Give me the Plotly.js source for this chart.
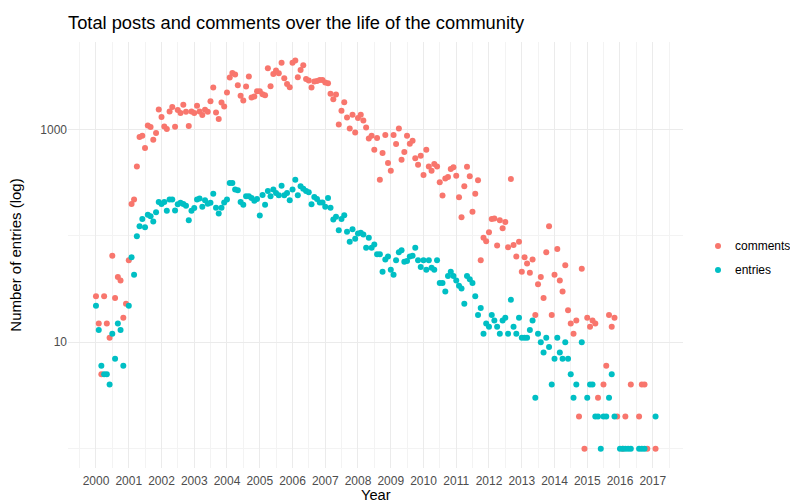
<!DOCTYPE html>
<html>
<head>
<meta charset="utf-8">
<script src="https://cdn.plot.ly/plotly-3.0.1.min.js"></script>
<style>
html,body{margin:0;padding:0;background:#fff;}
#chart{width:790px;height:504px;}
</style>
</head>
<body>
<div id="chart"></div>
<script>
// Monthly series, January 2000 .. February 2017 (206 months)
const startYear = 2000;
const monthCount = 206;

const comments = [
 27,15,5,27,15,11,65,26,41,38,17,23,
 59,199,219,449,847,872,668,1089,1051,800,923,1538,
 1304,1064,1006,1472,1619,1057,1518,1422,1703,1463,1074,1472,
 1422,1665,1472,1362,1528,1463,1841,2471,1440,1249,1786,1640,
 2218,3064,3390,3270,2603,2066,1866,2524,3131,1991,2033,2284,
 2284,2143,2096,3756,2546,3320,3566,3371,4238,3026,2675,2489,
 4238,4426,3093,3622,4010,2980,2873,2471,2811,2852,2916,2916,
 2751,2718,2158,1924,2125,1112,1493,1803,1294,1020,1371,936,
 1282,1371,1211,1041,822,872,644,829,337,600,885,483,
 409,885,728,1020,519,613,872,733,782,534,466,566,
 373,644,449,409,473,449,318,239,345,357,425,440,
 367,230,149,292,446,362,168,249,332,59,96,89,
 108,144,145,81,140,118,135,78,342,82,64,88,
 46,63,55,45,60,18,35,41,26,70,123,18,
 43,75,38,30,53,20,15,12,16,2,49,1,
 17,14,16,15,3,null,4,6,18,14,17,2,
 null,1,2,null,4,null,null,2,4,4,1,null,
 null,1
];

const entries = [
 22,13,6,5,5,4,12,7,15,13,6,null,
 22,63,43,99,123,144,120,158,153,136,166,208,
 199,208,172,219,219,173,198,204,199,192,140,172,
 182,219,224,187,216,200,204,249,183,162,183,206,
 219,314,314,272,268,208,196,235,235,227,214,222,
 155,242,196,264,235,272,253,240,296,240,253,216,
 272,337,240,292,276,264,256,198,232,222,206,206,
 187,227,183,142,151,113,144,156,109,88,115,94,
 105,107,103,77,96,77,83,67,67,46,60,64,
 48,43,59,70,73,57,58,64,65,77,59,51,
 59,48,59,50,48,59,36,36,30,42,46,42,
 38,34,32,23,42,39,36,27,18,21,12,15,
 14,18,16,14,12,16,17,12,25,14,12,17,
 11,11,11,13,16,3,12,10,8,11,9,4,
 7,11,8,7,10,7,5,3,4,null,10,null,
 3,4,4,2,2,1,2,2,3,5,2,null,
 1,1,1,1,1,null,null,1,1,1,null,null,
 null,2
];

const seriesNames = ["comments", "entries"];
const seriesColors = ["#F8766D", "#00BFC4"];
const yTickVals = [10, 1000];
const yTickText = ["10", "1000"];

function pad(n){ return (n < 10 ? "0" : "") + n; }
const months = [];
for (let i = 0; i < monthCount; i++) {
  const y = startYear + Math.floor(i / 12);
  const m = (i % 12) + 1;
  months.push(y + "-" + pad(m) + "-01");
}

const FONT = "Liberation Sans, Arial, Helvetica, sans-serif";

// Plot panel in pixels (for the hand-placed legend and x title)
const W = 790, H = 504;
const M = {l: 68, r: 107, t: 42, b: 36};
const PW = W - M.l - M.r, PH = H - M.t - M.b;
const px2x = px => (px - M.l) / PW;
const px2y = py => (H - M.b - py) / PH;

const traces = [comments, entries].map((vals, k) => ({
  type: "scatter",
  mode: "markers",
  name: seriesNames[k],
  x: months,
  y: vals,
  marker: {color: seriesColors[k], size: 6, line: {width: 0}},
  showlegend: false,
  hoverinfo: "x+y+name"
}));

// Legend drawn by hand so it does not change the plot margins
const legendY = [246, 270];
const shapes = seriesNames.map((n, k) => ({
  type: "circle", xref: "paper", yref: "paper",
  xsizemode: "pixel", ysizemode: "pixel",
  xanchor: px2x(718), yanchor: px2y(legendY[k]),
  x0: -3, x1: 3, y0: -3, y1: 3,
  fillcolor: seriesColors[k], line: {width: 0}
}));
const annotations = seriesNames.map((n, k) => ({
  text: n, xref: "paper", yref: "paper",
  x: px2x(733), y: px2y(legendY[k]),
  xanchor: "left", yanchor: "middle", showarrow: false,
  font: {family: FONT, size: 12, color: "#000000"}
}));
annotations.push({
  text: "Year", xref: "paper", yref: "paper",
  x: 0.5, y: px2y(504), xanchor: "center", yanchor: "bottom",
  borderpad: 0,
  showarrow: false, font: {family: FONT, size: 14.7, color: "#000000"}
});

const layout = {
  width: W,
  height: H,
  paper_bgcolor: "#ffffff",
  plot_bgcolor: "#ffffff",
  margin: M,
  font: {family: FONT, color: "#000000"},
  title: {
    text: "Total posts and comments over the life of the community",
    x: 68 / 790, xanchor: "left", xref: "container",
    y: 1 - 22.5 / 504, yanchor: "middle", yref: "container",
    font: {family: FONT, size: 18.3, color: "#000000"}
  },
  xaxis: {
    type: "date",
    range: ["1999-02-23", "2017-12-04"],
    tickmode: "linear",
    tick0: "2000-01-01",
    dtick: "M12",
    tickformat: "%Y",
    ticks: "",
    ticklabelstandoff: 4,
    showline: false,
    zeroline: false,
    showgrid: true,
    gridcolor: "#EBEBEB",
    gridwidth: 1.1,
    minor: {tick0: "1999-07-01", dtick: "M12", showgrid: true, gridcolor: "#F3F3F3", gridwidth: 0.8, ticks: ""},
    tickfont: {family: FONT, size: 12, color: "#4D4D4D"},
    automargin: false
  },
  yaxis: {
    type: "log",
    range: [-0.182, 3.821],
    tickmode: "array",
    tickvals: yTickVals,
    ticktext: yTickText,
    ticks: "",
    showline: false,
    zeroline: false,
    showgrid: true,
    gridcolor: "#EBEBEB",
    gridwidth: 1.1,
    minor: {tickmode: "array", tickvals: [1, 100], showgrid: true, gridcolor: "#F3F3F3", gridwidth: 0.8, ticks: ""},
    tickfont: {family: FONT, size: 12, color: "#4D4D4D"},
    title: {text: "Number of entries (log)", font: {family: FONT, size: 15, color: "#000000"}, standoff: 15},
    automargin: false
  },
  showlegend: false,
  shapes: shapes,
  annotations: annotations
};

Plotly.newPlot("chart", traces, layout, {displayModeBar: false, responsive: false});
</script>
</body>
</html>
